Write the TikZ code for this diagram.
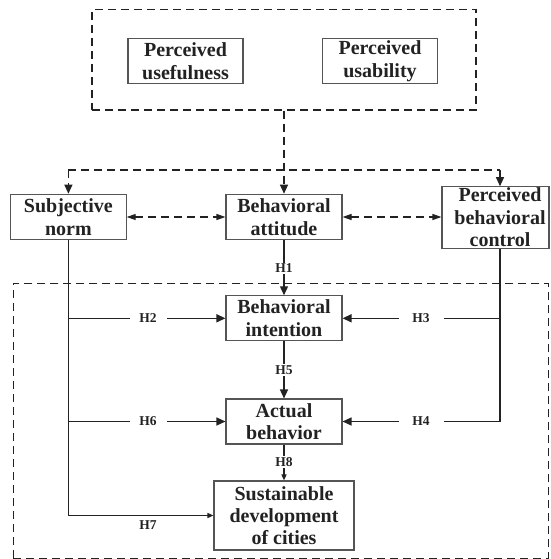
\documentclass[tikz,border=0pt]{standalone}
\usepackage{fontspec}
\setmainfont{Liberation Serif}
\usetikzlibrary{arrows.meta}
\definecolor{ink}{HTML}{222222}
\definecolor{boxline}{HTML}{555555}
\begin{document}
\begin{tikzpicture}[x=1pt,y=-1pt,
  box/.style={draw=boxline, line width=1.1pt, inner sep=0pt, align=center,
    font=\fontsize{20}{22.5}\selectfont\bfseries, text=ink},
  frame/.style={draw=ink, dash pattern=on 8pt off 5pt, line width=1.1pt, inner sep=0pt},
  conn/.style={draw=ink, line width=1.4pt},
  tip/.style={-{Triangle[length=9pt,width=8pt]}},
  smalltip/.style={-{Triangle[length=6pt,width=5pt]}},
  dsh/.style={draw=ink, dash pattern=on 8pt off 5pt, line width=1.1pt},
  dbl/.style={{Triangle[length=9pt,width=6pt]}-{Triangle[length=9pt,width=6pt]}},
  hlab/.style={fill=white, font=\fontsize{13.5}{14}\selectfont\bfseries, text=ink, inner sep=1.5pt},
]
\useasboundingbox (0,0) rectangle (550,559);

% frames
\node[frame, minimum width=384pt, minimum height=100.5pt] (top) at (284,59.75) {};
\node[frame, minimum width=535pt, minimum height=275pt] (big) at (280.8,420.8) {};

% boxes
\node[box, minimum width=115pt, minimum height=45pt] (pu) at (185.5,61) {Perceived\\usefulness};
\node[box, minimum width=115pt, minimum height=45pt] (pus) at (380,61) {Perceived\\usability};
\node[box, minimum width=115.5pt, minimum height=45.5pt] (sn) at (68.4,217) {Subjective\\norm};
\node[box, minimum width=116pt, minimum height=45.5pt] (ba) at (284,217) {Behavioral\\attitude};
\node[box, minimum width=107pt, minimum height=61.5pt] (pbc) at (495.5,217.5)
  {\hspace*{9pt}Perceived\\\hspace*{9pt}behavioral\\\hspace*{9pt}control};
\node[box, minimum width=116pt, minimum height=45pt] (bi) at (284,318.3) {Behavioral\\intention};
\node[box, minimum width=116pt, minimum height=45pt] (ab) at (284,421.5) {Actual\\behavior};
\node[box, minimum width=140pt, minimum height=69pt, font=\fontsize{20}{21.7}\selectfont\bfseries] (sd) at (284,515.5) {Sustainable\\development\\of cities};

% junction coordinates
\coordinate (jl) at (68.4,170);
\coordinate (jr) at (500,170);

% dashed connectors
\draw[dsh, tip] (top.south) -- (ba.north);
\draw[dsh] (jl) -- (jr);
\draw[dsh, tip] (jl) -- (sn.north);
\draw[dsh, tip] (jr) -- (jr |- pbc.north);
\draw[dsh, dbl] (sn.east) -- (ba.west);
\draw[dsh, dbl] (ba.east) -- (ba.east -| pbc.west);

% solid connectors
\draw[conn, smalltip] (sn.south) |- (sd.west);
\draw[conn, tip] (sn.south |- bi.west) -- (bi.west);
\draw[conn, tip] (sn.south |- ab.west) -- (ab.west);
\draw[conn, tip] (jr |- pbc.south) |- (ab.east);
\draw[conn, tip] (jr |- bi.east) -- (bi.east);
\draw[conn, tip] (ba) -- (bi);
\draw[conn, tip] (bi) -- (ab);
\draw[conn, smalltip] (ab) -- (sd);

% labels
\node[hlab] (h1) at (284,268.5) {H1};
\node[hlab, minimum width=37pt] (h2) at (148,318.3) {H2};
\node[hlab, minimum width=45pt] (h3) at (421,318.3) {H3};
\node[hlab, minimum width=45pt] (h4) at (421,421.5) {H4};
\node[hlab] (h5) at (284,370) {H5};
\node[hlab, minimum width=37pt] (h6) at (148,421.5) {H6};
\node[hlab, fill=none] (h7) at (148,525) {H7};
\node[hlab] (h8) at (284,462) {H8};
\end{tikzpicture}
\end{document}
